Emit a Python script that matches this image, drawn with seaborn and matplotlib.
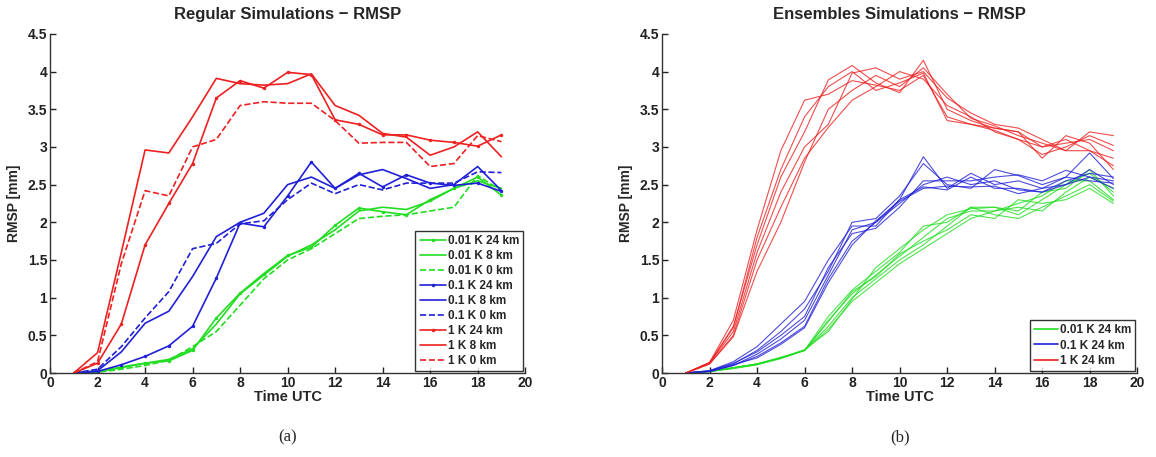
import numpy as np
import pandas as pd
import seaborn as sns
import matplotlib.pyplot as plt
from matplotlib.ticker import FuncFormatter

# hours (UTC)
hours = list(range(1, 20))

# regular simulations
red_24 = [0, 0.13, 0.65, 1.70, 2.25, 2.78, 3.65, 3.88, 3.78, 3.99, 3.96, 3.36, 3.30, 3.16, 3.16, 3.09, 3.06, 3.01, 3.16]
red_8 = [0, 0.27, 1.60, 2.96, 2.92, 3.40, 3.91, 3.84, 3.82, 3.84, 3.97, 3.55, 3.42, 3.18, 3.13, 2.89, 3.00, 3.20, 2.87]
red_0 = [0, 0.15, 1.45, 2.42, 2.35, 3.00, 3.10, 3.55, 3.60, 3.58, 3.58, 3.35, 3.05, 3.06, 3.06, 2.74, 2.78, 3.15, 3.07]
blue_24 = [0, 0.02, 0.11, 0.22, 0.36, 0.62, 1.26, 1.99, 1.94, 2.35, 2.80, 2.45, 2.65, 2.47, 2.63, 2.52, 2.49, 2.52, 2.41]
blue_8 = [0, 0.03, 0.28, 0.66, 0.82, 1.28, 1.81, 2.00, 2.12, 2.50, 2.60, 2.45, 2.63, 2.70, 2.58, 2.45, 2.50, 2.74, 2.42]
blue_0 = [0, 0.05, 0.35, 0.73, 1.08, 1.65, 1.72, 1.98, 2.02, 2.30, 2.52, 2.38, 2.50, 2.43, 2.52, 2.52, 2.52, 2.67, 2.66]
green_24 = [0, 0.02, 0.08, 0.13, 0.16, 0.30, 0.73, 1.06, 1.32, 1.56, 1.67, 1.96, 2.19, 2.14, 2.10, 2.30, 2.45, 2.60, 2.36]
green_8 = [0, 0.02, 0.07, 0.13, 0.18, 0.32, 0.65, 1.05, 1.30, 1.55, 1.70, 1.90, 2.15, 2.20, 2.17, 2.28, 2.45, 2.55, 2.45]
green_0 = [0, 0.01, 0.05, 0.10, 0.17, 0.35, 0.55, 0.90, 1.25, 1.50, 1.65, 1.85, 2.05, 2.08, 2.10, 2.15, 2.20, 2.62, 2.42]

# ensemble members (24 km)
ens_red = [
    [0, 0.14, 0.70, 1.90, 2.95, 3.62, 3.70, 3.88, 3.82, 3.75, 3.95, 3.40, 3.30, 3.25, 3.20, 3.00, 3.10, 2.95, 2.75],
    [0, 0.13, 0.62, 1.70, 2.60, 3.20, 3.89, 4.08, 3.85, 3.72, 4.15, 3.50, 3.35, 3.25, 3.20, 2.85, 3.15, 3.05, 2.70],
    [0, 0.13, 0.55, 1.60, 2.40, 3.00, 3.30, 3.98, 4.05, 3.90, 4.00, 3.65, 3.45, 3.30, 3.25, 3.10, 2.95, 3.20, 3.15],
    [0, 0.12, 0.50, 1.50, 2.20, 2.85, 3.26, 3.62, 3.80, 4.00, 3.90, 3.55, 3.40, 3.20, 3.10, 3.00, 3.05, 3.10, 2.95],
    [0, 0.12, 0.48, 1.35, 2.00, 2.80, 3.50, 3.75, 3.95, 3.80, 4.05, 3.70, 3.38, 3.28, 3.15, 3.05, 2.95, 2.95, 2.85],
    [0, 0.14, 0.60, 1.80, 2.70, 3.40, 3.80, 4.00, 3.75, 3.85, 3.98, 3.35, 3.30, 3.22, 3.10, 2.90, 3.00, 3.15, 3.02],
]
ens_blue = [
    [0, 0.03, 0.15, 0.35, 0.65, 0.95, 1.50, 1.95, 1.95, 2.30, 2.87, 2.45, 2.65, 2.50, 2.55, 2.45, 2.50, 2.60, 2.55],
    [0, 0.03, 0.12, 0.30, 0.55, 0.85, 1.35, 2.00, 2.05, 2.35, 2.78, 2.50, 2.45, 2.70, 2.62, 2.50, 2.60, 2.92, 2.58],
    [0, 0.02, 0.10, 0.25, 0.45, 0.70, 1.30, 1.90, 2.00, 2.25, 2.50, 2.60, 2.50, 2.55, 2.43, 2.40, 2.50, 2.70, 2.50],
    [0, 0.02, 0.10, 0.22, 0.40, 0.62, 1.25, 1.75, 2.00, 2.30, 2.47, 2.43, 2.60, 2.45, 2.45, 2.40, 2.55, 2.65, 2.60],
    [0, 0.03, 0.13, 0.28, 0.50, 0.75, 1.40, 1.85, 1.92, 2.20, 2.55, 2.55, 2.55, 2.60, 2.63, 2.55, 2.69, 2.60, 2.45],
    [0, 0.02, 0.11, 0.20, 0.38, 0.60, 1.20, 1.70, 2.02, 2.28, 2.45, 2.48, 2.47, 2.48, 2.38, 2.45, 2.60, 2.55, 2.52],
]
ens_green = [
    [0, 0.02, 0.07, 0.12, 0.20, 0.30, 0.75, 1.10, 1.35, 1.60, 1.95, 2.00, 2.20, 2.20, 2.10, 2.30, 2.50, 2.65, 2.40],
    [0, 0.02, 0.07, 0.12, 0.20, 0.30, 0.70, 1.05, 1.30, 1.55, 1.80, 2.05, 2.15, 2.15, 2.25, 2.35, 2.55, 2.55, 2.30],
    [0, 0.02, 0.06, 0.11, 0.19, 0.30, 0.62, 1.00, 1.25, 1.50, 1.70, 1.95, 2.20, 2.10, 2.05, 2.20, 2.35, 2.50, 2.28],
    [0, 0.02, 0.06, 0.11, 0.20, 0.30, 0.58, 0.95, 1.20, 1.45, 1.65, 1.85, 2.05, 2.15, 2.20, 2.15, 2.40, 2.60, 2.45],
    [0, 0.02, 0.07, 0.12, 0.20, 0.31, 0.55, 0.98, 1.40, 1.65, 1.90, 2.10, 2.18, 2.20, 2.15, 2.40, 2.45, 2.70, 2.35],
    [0, 0.02, 0.07, 0.12, 0.21, 0.30, 0.68, 1.08, 1.28, 1.58, 1.75, 1.90, 2.10, 2.05, 2.30, 2.25, 2.30, 2.45, 2.25],
]

G, B, R = '#22dd22', '#2020d8', '#ee2020'

sns.set_theme(style='ticks')
plt.rcParams['font.family'] = ['Liberation Sans', 'DejaVu Sans']

fig = plt.figure(figsize=[11.56, 4.57], dpi=100)
ax1 = fig.add_axes([0.0433, 0.1838, 0.411, 0.742])
ax2 = fig.add_axes([0.5727, 0.1838, 0.411, 0.742])

# left panel: regular runs
runs = [
    ('0.01 K 24 km', green_24, G, '-', '.'),
    ('0.01 K 8 km', green_8, G, '-', None),
    ('0.01 K 0 km', green_0, G, '--', None),
    ('0.1 K 24 km', blue_24, B, '-', '.'),
    ('0.1 K 8 km', blue_8, B, '-', None),
    ('0.1 K 0 km', blue_0, B, '--', None),
    ('1 K 24 km', red_24, R, '-', '.'),
    ('1 K 8 km', red_8, R, '-', None),
    ('1 K 0 km', red_0, R, '--', None),
]
for name, vals, col, ls, mk in runs:
    sns.lineplot(x=hours, y=vals, ax=ax1, color=col, linestyle=ls, marker=mk,
                 markersize=5, markeredgewidth=0, linewidth=1.2, label=name)

# right panel: ensembles
for members, col, name in [(ens_green, G, '0.01 K 24 km'), (ens_blue, B, '0.1 K 24 km'), (ens_red, R, '1 K 24 km')]:
    for i, vals in enumerate(members):
        sns.lineplot(x=hours, y=vals, ax=ax2, color=col, linewidth=0.8, alpha=0.8,
                     label=name if i == 0 else None)

for ax, title, tag in [(ax1, 'Regular Simulations \u2212 RMSP', '(a)'),
                       (ax2, 'Ensembles Simulations \u2212 RMSP', '(b)')]:
    ax.set_xlim(0, 20)
    ax.set_ylim(0, 4.5)
    ax.set_xticks(range(0, 21, 2))
    ax.set_yticks(np.arange(0, 4.51, 0.5))
    ax.yaxis.set_major_formatter(FuncFormatter(lambda v, p: '%g' % v))
    ax.tick_params(direction='in', length=4, width=1, labelsize=10, pad=2, colors='#222222')
    for lab in ax.get_xticklabels() + ax.get_yticklabels():
        lab.set_fontweight('bold')
    sns.despine(ax=ax)
    for s in ['left', 'bottom']:
        ax.spines[s].set_linewidth(1.0)
        ax.spines[s].set_color('#333333')
    ax.set_title(title, fontsize=12, fontweight='bold', pad=11)
    ax.set_xlabel('Time UTC', fontsize=10.5, fontweight='bold', labelpad=0)
    ax.set_ylabel('RMSP [mm]', fontsize=10, fontweight='bold', labelpad=5)
    ax.text(0.5, -0.19, tag, transform=ax.transAxes, ha='center', va='center',
            fontsize=12, family='Liberation Serif')

leg1 = ax1.legend(loc='lower right', frameon=True, fancybox=False,
                  borderpad=0.35, labelspacing=0.25, handlelength=2.2, handletextpad=0.2,
                  borderaxespad=0.15, prop={'weight': 'bold', 'size': 8.5})
leg1.get_frame().set_edgecolor('black')
leg1.get_frame().set_linewidth(1.0)

leg2 = ax2.legend(loc='lower right', frameon=True, fancybox=False,
                  borderpad=0.35, labelspacing=0.3, handlelength=2.0, handletextpad=0.2,
                  borderaxespad=0.15, prop={'weight': 'bold', 'size': 8.5})
leg2.get_frame().set_edgecolor('black')
leg2.get_frame().set_linewidth(1.0)
for h in leg2.get_lines():
    h.set_alpha(1)
    h.set_linewidth(1.2)

plt.savefig('out.png', dpi=100, facecolor='w')
